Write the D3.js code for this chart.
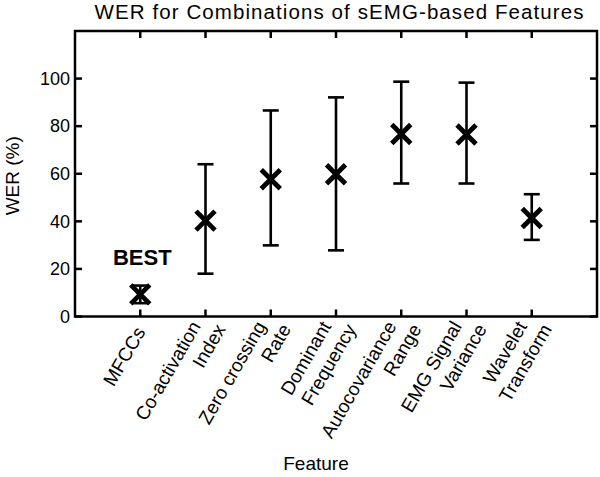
<!DOCTYPE html>
<html>
<head>
<meta charset="utf-8">
<script src="https://cdn.jsdelivr.net/npm/d3@7"></script>
<style>
  body { margin: 0; background: #fff; }
  svg { display: block; font-family: Arial, "Liberation Sans", sans-serif; }
</style>
</head>
<body>
<div id="chart"></div>
<script>
// Feature names (two lines where the label wraps)
const features = [
    ['MFCCs'],
    ['Co-activation', 'Index'],
    ['Zero crossing', 'Rate'],
    ['Dominant', 'Frequency'],
    ['Autocovariance', 'Range'],
    ['EMG Signal', 'Variance'],
    ['Wavelet', 'Transform']
];
// WER mean and error bar ends (%)
const werMean  = [9.3, 40.3, 57.7, 59.8, 76.7, 76.5, 41.4];
const werLow   = [5.6, 18.0, 29.9, 27.8, 55.9, 55.9, 32.2];
const werHigh  = [13.0, 64.0, 86.6, 92.1, 98.7, 98.3, 51.4];
const yTicks = [0, 20, 40, 60, 80, 100];

const width = 600, height = 477;
const margin = { top: 31, right: 3, bottom: 160.5, left: 75 };

const svg = d3.select('#chart')
    .append('svg')
    .attr('width', width)
    .attr('height', height);

const x = d3.scaleLinear()
    .domain([0, features.length + 1])
    .range([margin.left, width - margin.right]);

const y = d3.scaleLinear()
    .domain([0, 120])
    .range([height - margin.bottom, margin.top]);

const x0 = x.range()[0], x1 = x.range()[1];
const y0 = y.range()[0], y1 = y.range()[1];
const tickLen = 7;
const xTickVals = d3.range(1, features.length + 1);

// Ticks (inward) on all four sides
const ticks = svg.append('g')
    .attr('stroke', '#000')
    .attr('stroke-width', 2.5);

xTickVals.forEach(v => {
    ticks.append('line').attr('x1', x(v)).attr('x2', x(v)).attr('y1', y0).attr('y2', y0 - tickLen);
    ticks.append('line').attr('x1', x(v)).attr('x2', x(v)).attr('y1', y1).attr('y2', y1 + tickLen);
});
yTicks.forEach(v => {
    ticks.append('line').attr('x1', x0).attr('x2', x0 + tickLen).attr('y1', y(v)).attr('y2', y(v));
    ticks.append('line').attr('x1', x1).attr('x2', x1 - tickLen).attr('y1', y(v)).attr('y2', y(v));
});

// Box
svg.append('rect')
    .attr('x', x0)
    .attr('y', y1)
    .attr('width', x1 - x0)
    .attr('height', y0 - y1)
    .attr('fill', 'none')
    .attr('stroke', '#000')
    .attr('stroke-width', 2.5);

// Y tick labels
svg.append('g')
    .selectAll('text')
    .data(yTicks)
    .join('text')
    .attr('x', x0 - 5)
    .attr('y', d => y(d))
    .attr('dy', '0.35em')
    .attr('text-anchor', 'end')
    .attr('font-size', 18)
    .text(d => d);

// X tick labels, rotated
const lineH = 23;
const xLabels = svg.append('g')
    .selectAll('g')
    .data(features)
    .join('g')
    .attr('transform', (d, i) => `translate(${x(i + 1)},${y0 + 12}) rotate(-60)`);

xLabels.each(function(lines) {
    const g = d3.select(this);
    const n = lines.length;
    lines.forEach((t, j) => {
        g.append('text')
            .attr('x', j * 10)
            .attr('y', (j - (n - 1) / 2) * lineH)
            .attr('dy', '0.35em')
            .attr('text-anchor', 'end')
            .attr('font-size', 19)
            .text(t);
    });
});

// Error bars
const capW = 8;
const bars = svg.append('g')
    .attr('stroke', '#000')
    .attr('stroke-width', 2.6)
    .attr('fill', 'none');

werMean.forEach((m, i) => {
    const cx = x(i + 1);
    bars.append('line').attr('x1', cx).attr('x2', cx).attr('y1', y(werLow[i])).attr('y2', y(werHigh[i]));
    bars.append('line').attr('x1', cx - capW).attr('x2', cx + capW).attr('y1', y(werLow[i])).attr('y2', y(werLow[i]));
    bars.append('line').attr('x1', cx - capW).attr('x2', cx + capW).attr('y1', y(werHigh[i])).attr('y2', y(werHigh[i]));
});

// Mean markers (x)
const mk = 9.5;
const marks = svg.append('g')
    .attr('stroke', '#000')
    .attr('stroke-width', 4.8)
    .attr('fill', 'none');

werMean.forEach((m, i) => {
    const cx = x(i + 1), cy = y(m);
    marks.append('path')
        .attr('d', `M${cx - mk},${cy - mk}L${cx + mk},${cy + mk}M${cx - mk},${cy + mk}L${cx + mk},${cy - mk}`);
});

// Annotation
svg.append('text')
    .attr('x', x(1) + 2)
    .attr('y', y(21.5))
    .attr('text-anchor', 'middle')
    .attr('font-size', 22)
    .attr('font-weight', 'bold')
    .text('BEST');

// Title
svg.append('text')
    .attr('x', 339)
    .attr('y', 18.5)
    .attr('text-anchor', 'middle')
    .attr('font-size', 20.5)
    .attr('textLength', 489)
    .attr('lengthAdjust', 'spacing')
    .text('WER for Combinations of sEMG-based Features');

// Axis titles
svg.append('text')
    .attr('transform', `translate(19,${(y0 + y1) / 2 + 2}) rotate(-90)`)
    .attr('text-anchor', 'middle')
    .attr('font-size', 19)
    .text('WER (%)');

svg.append('text')
    .attr('x', 316)
    .attr('y', 470)
    .attr('text-anchor', 'middle')
    .attr('font-size', 19)
    .text('Feature');
</script>
</body>
</html>
